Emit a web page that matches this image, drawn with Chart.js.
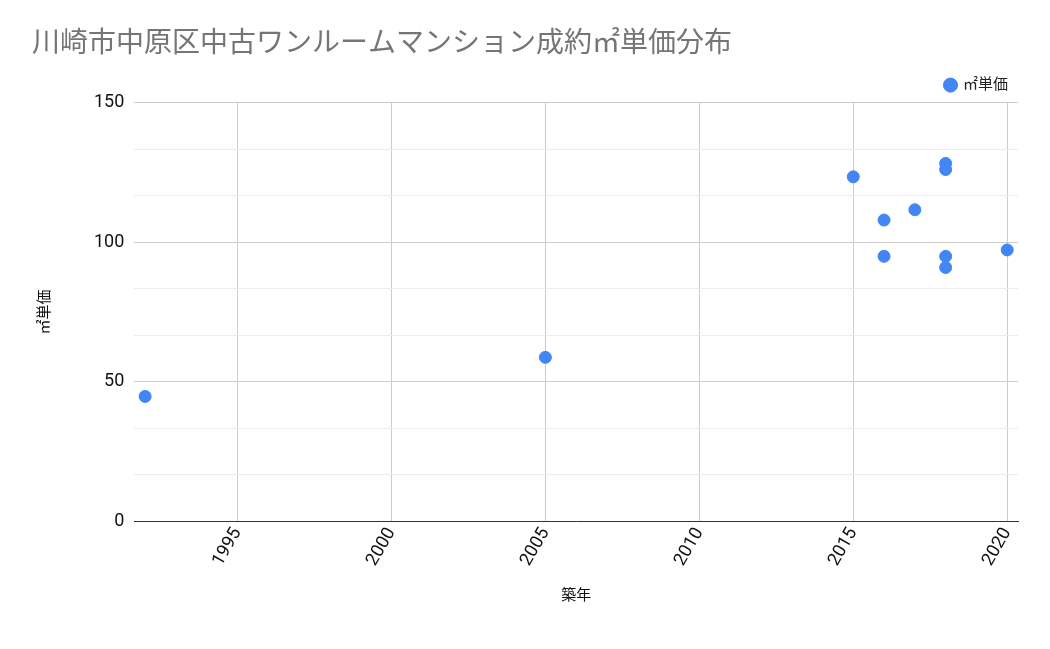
<!DOCTYPE html>
<html>
<head>
<meta charset="utf-8">
<script src="https://cdn.jsdelivr.net/npm/chart.js@4"></script>
<style>
body { margin: 0; background: #fff; }
#wrap { width: 1050px; height: 649px; position: relative; }
</style>
</head>
<body>
<div id="wrap"><canvas id="chart" width="1050" height="649"></canvas></div>
<script>
const titleText = '川崎市中原区中古ワンルームマンション成約㎡単価分布'
const seriesName = '㎡単価'
const builtYears = [1992, 2005, 2015, 2016, 2016, 2017, 2018, 2018, 2018, 2018, 2020]
const unitPrices = [44.7, 58.7, 123.4, 107.9, 94.9, 111.6, 128.2, 126, 94.9, 90.9, 97.2]
const xTicks = [1995, 2000, 2005, 2010, 2015, 2020]

const points = builtYears.map((x, i) => ({ x: x, y: unitPrices[i] }))
const font = "'Roboto', 'Noto Sans CJK JP', sans-serif"

new Chart(document.getElementById('chart').getContext('2d'), {
    type: 'scatter',
    data: {
        datasets: [{
            label: seriesName,
            data: points,
            backgroundColor: '#4285f4',
            borderColor: '#4285f4',
            pointRadius: 6,
            pointHoverRadius: 6
        }]
    },
    options: {
        responsive: false,
        animation: false,
        layout: { padding: { left: 32, right: 32, top: 10, bottom: 40 } },
        plugins: {
            title: {
                display: true,
                text: titleText,
                align: 'start',
                color: '#757575',
                font: { family: font, size: 28, weight: 'normal' },
                padding: { top: 18, bottom: 6 }
            },
            legend: {
                position: 'top',
                align: 'end',
                labels: {
                    usePointStyle: true,
                    pointStyle: 'circle',
                    boxWidth: 10,
                    boxHeight: 10,
                    color: '#222',
                    font: { family: font, size: 15 }
                }
            }
        },
        scales: {
            x: {
                type: 'linear',
                min: 1991.65,
                max: 2020.35,
                afterBuildTicks: axis => { axis.ticks = xTicks.map(v => ({ value: v })) },
                ticks: {
                    maxRotation: 60,
                    minRotation: 60,
                    color: '#111',
                    font: { family: font, size: 18 },
                    callback: v => String(v)
                },
                grid: { color: '#cccccc', drawTicks: false },
                border: { color: '#333' },
                title: {
                    display: true,
                    text: '築年',
                    color: '#111',
                    font: { family: font, size: 15 },
                    padding: { top: 14 }
                }
            },
            y: {
                min: 0,
                max: 150,
                afterBuildTicks: axis => {
                    const t = []
                    for (let i = 0; i <= 9; i++) t.push({ value: i * 50 / 3 })
                    axis.ticks = t
                },
                ticks: {
                    color: '#111',
                    padding: 10,
                    font: { family: font, size: 18 },
                    callback: v => {
                        const r = Math.round(v)
                        return (Math.abs(v - r) < 0.01 && r % 50 === 0) ? String(r) : ''
                    }
                },
                grid: {
                    drawTicks: false,
                    color: ctx => {
                        const v = ctx.tick ? ctx.tick.value : 0
                        return Math.abs(v / 50 - Math.round(v / 50)) < 0.01 ? '#cccccc' : '#ececec'
                    }
                },
                border: { display: false },
                title: {
                    display: true,
                    text: seriesName,
                    color: '#111',
                    font: { family: font, size: 15 },
                    padding: { bottom: 30 }
                }
            }
        }
    }
})
</script>
</body>
</html>
